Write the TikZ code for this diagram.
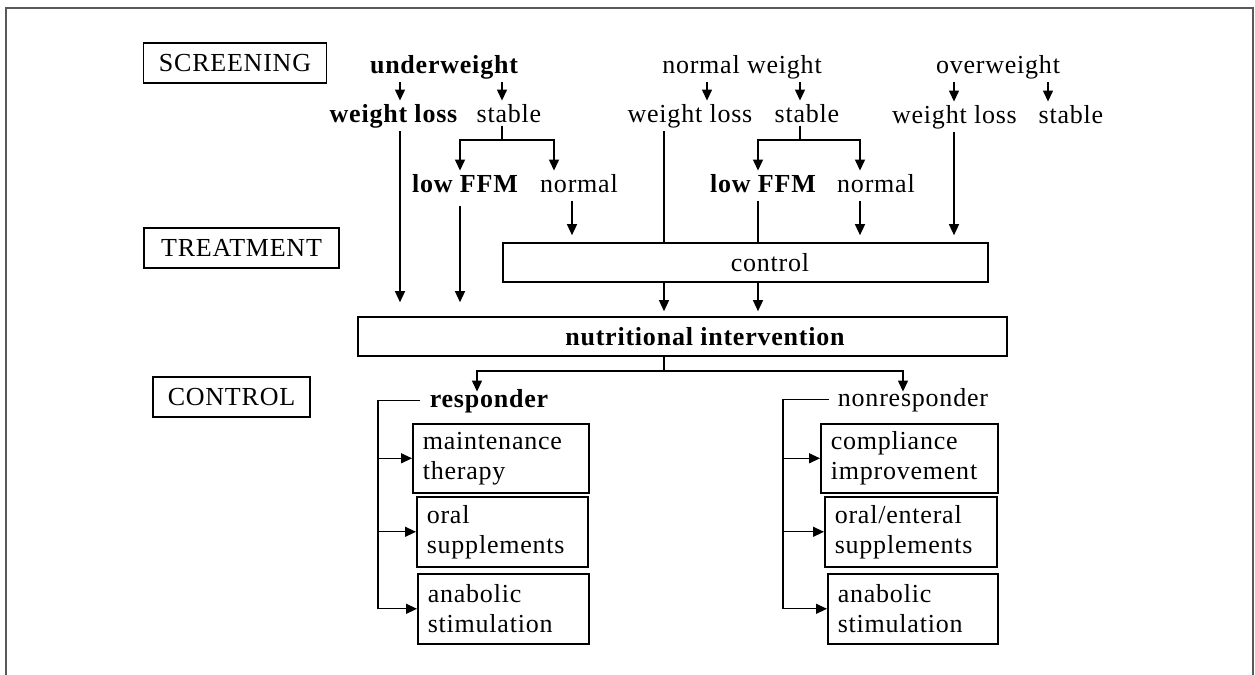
\documentclass[tikz,border=0pt]{standalone}
\usepackage{fontspec}
\setmainfont{Liberation Serif}[LetterSpace=3]
\usetikzlibrary{arrows.meta}
\definecolor{framegray}{gray}{0.35}
\tikzset{
  txt/.style={inner sep=1.5pt, anchor=base},
  btxt/.style={txt, font=\fontsize{13}{15}\selectfont\bfseries},
  arr/.style={-{Triangle[length=5.5pt,width=5pt]}, line width=0.65pt},
  ln/.style={line width=0.65pt},
  stagebox/.style={draw, line width=0.7pt, inner sep=0pt, minimum height=20pt},
  bigbox/.style={draw, line width=0.8pt, inner sep=0pt, minimum height=19.5pt},
  sbox/.style={draw, line width=0.8pt, anchor=north west, align=left,
    inner xsep=5pt, inner ysep=0pt, minimum height=34.5pt, text width=#1},
}
\begin{document}
\begin{tikzpicture}[x=0.5pt,y=-0.5pt,font=\fontsize{13}{15}\selectfont]
\useasboundingbox (0,0) rectangle (1255,675);
\draw[framegray, line width=1pt] (6,675) -- (6,8) -- (1253,8) -- (1253,675);

% stage labels
\node[stagebox, minimum width=91.25pt] (scr) at (235,63) {SCREENING};
\node[stagebox, minimum width=97.5pt] (trt) at (241.5,248) {TREATMENT};
\node[stagebox, minimum width=78.5pt] (ctl) at (231.5,397) {CONTROL};

% column coordinates
\coordinate (xa) at (400,0);
\coordinate (xb) at (502,0);
\coordinate (xc) at (460,0);
\coordinate (xd) at (554,0);
\coordinate (xe) at (572,0);
\coordinate (xf) at (664,0);
\coordinate (xp) at (707,0);
\coordinate (xg) at (800,0);
\coordinate (xh) at (758,0);
\coordinate (xi) at (860,0);
\coordinate (xj) at (954,0);
\coordinate (xk) at (1048,0);
\coordinate (xl) at (477,0);
\coordinate (xm) at (903,0);
\coordinate (xn) at (378,0);
\coordinate (xo) at (783,0);

% screening texts
\node[btxt] (uw) at (444,73) {underweight};
\node[txt] (nw) at (742,73) {normal weight};
\node[txt] (ow) at (998,73) {overweight};
\node[btxt] (wl1) at (393.5,122) {weight loss};
\node[txt] (st1) at (509,122) {stable};
\node[txt] (wl2) at (690,122) {weight loss};
\node[txt] (st2) at (807,122) {stable};
\node[txt] (wl3) at (954.5,123) {weight loss};
\node[txt] (st3) at (1071,123) {stable};
\node[btxt] (lf1) at (465,192) {low FFM};
\node[txt] (nm1) at (579,192) {normal};
\node[btxt] (lf2) at (763,192) {low FFM};
\node[txt] (nm2) at (876,192) {normal};

% treatment boxes
\node[bigbox, minimum width=242.5pt] (ctrl) at (745.5,262.5) {};
\node[txt] (ctrltext) at (770,271) {control};
\node[bigbox, minimum width=324.5pt] (ni) at (682.5,336.5) {};
\node[btxt] (nitext) at (705,345) {nutritional intervention};

% control outcomes
\node[btxt] (resp) at (489,407) {responder};
\node[txt] (nonresp) at (913,406) {nonresponder};
\node[sbox=78pt] (maint) at (412,423) {maintenance\\therapy};
\node[sbox=75.5pt, minimum height=35pt] (oral1) at (416,496) {oral\\supplements};
\node[sbox=75.5pt, minimum height=35pt] (anab1) at (417,573) {anabolic\\stimulation};
\node[sbox=78.5pt] (comp) at (820,423) {compliance\\improvement};
\node[sbox=76pt, minimum height=35pt] (oral2) at (824,496) {oral/enteral\\supplements};
\node[sbox=75pt, minimum height=35pt] (anab2) at (827,573) {anabolic\\stimulation};

% underweight branch
\draw[arr] (uw.south -| xa) -- (wl1.north -| xa);
\draw[arr] (uw.south -| xb) -- (st1.north -| xb);
\coordinate (sp1) at (502,140);
\draw[ln] (st1.south -| sp1) -- (sp1);
\draw[arr] (sp1) -| (lf1.north -| xc);
\draw[arr] (sp1) -| (nm1.north -| xd);
\draw[arr, shorten >=7pt] (wl1.south -| xa) -- (ni.north -| xa);
\draw[arr, shorten <=5pt, shorten >=7pt] (lf1.south -| xc) -- (ni.north -| xc);
\draw[arr, shorten <=2.5pt, shorten >=3.5pt] (nm1.south -| xe) -- (ctrl.north -| xe);

% normal weight branch
\draw[arr] (nw.south -| xp) -- (wl2.north -| xp);
\draw[arr] (nw.south -| xg) -- (st2.north -| xg);
\coordinate (sp2) at (800,140);
\draw[ln] (st2.south -| sp2) -- (sp2);
\draw[arr] (sp2) -| (lf2.north -| xh);
\draw[arr] (sp2) -| (nm2.north -| xi);
\draw[ln] (wl2.south -| xf) -- (ctrl.north -| xf);
\draw[ln, shorten <=2.5pt] (lf2.south -| xh) -- (ctrl.north -| xh);
\draw[arr, shorten <=2.5pt, shorten >=3.5pt] (nm2.south -| xi) -- (ctrl.north -| xi);

% overweight branch
\draw[arr] (ow.south -| xj) -- (wl3.north -| xj);
\draw[arr] (ow.south -| xk) -- (st3.north -| xk);
\draw[arr, shorten >=3.5pt] (wl3.south -| xj) -- (ctrl.north -| xj);

% control to intervention
\draw[arr, shorten >=2.5pt] (ctrl.south -| xf) -- (ni.north -| xf);
\draw[arr, shorten >=2.5pt] (ctrl.south -| xh) -- (ni.north -| xh);

% intervention split
\coordinate (sp3) at (664,371);
\draw[ln] (ni.south -| sp3) -- (sp3);
\draw[arr] (sp3) -| ([yshift=-3pt]resp.north -| xl);
\draw[arr] (sp3) -| ([yshift=-3.5pt]nonresp.north -| xm);

% responder bracket
\draw[ln, shorten <=3pt] (resp.west) -- (resp.west -| xn) -- (xn |- anab1.west);
\draw[arr] (xn |- maint.west) -- (maint.west);
\draw[arr] (xn |- oral1.west) -- (oral1.west);
\draw[arr] (xn |- anab1.west) -- (anab1.west);

% nonresponder bracket
\draw[ln, shorten <=3pt] (nonresp.west) -- (nonresp.west -| xo) -- (xo |- anab2.west);
\draw[arr] (xo |- comp.west) -- (comp.west);
\draw[arr] (xo |- oral2.west) -- (oral2.west);
\draw[arr] (xo |- anab2.west) -- (anab2.west);
\end{tikzpicture}
\end{document}
